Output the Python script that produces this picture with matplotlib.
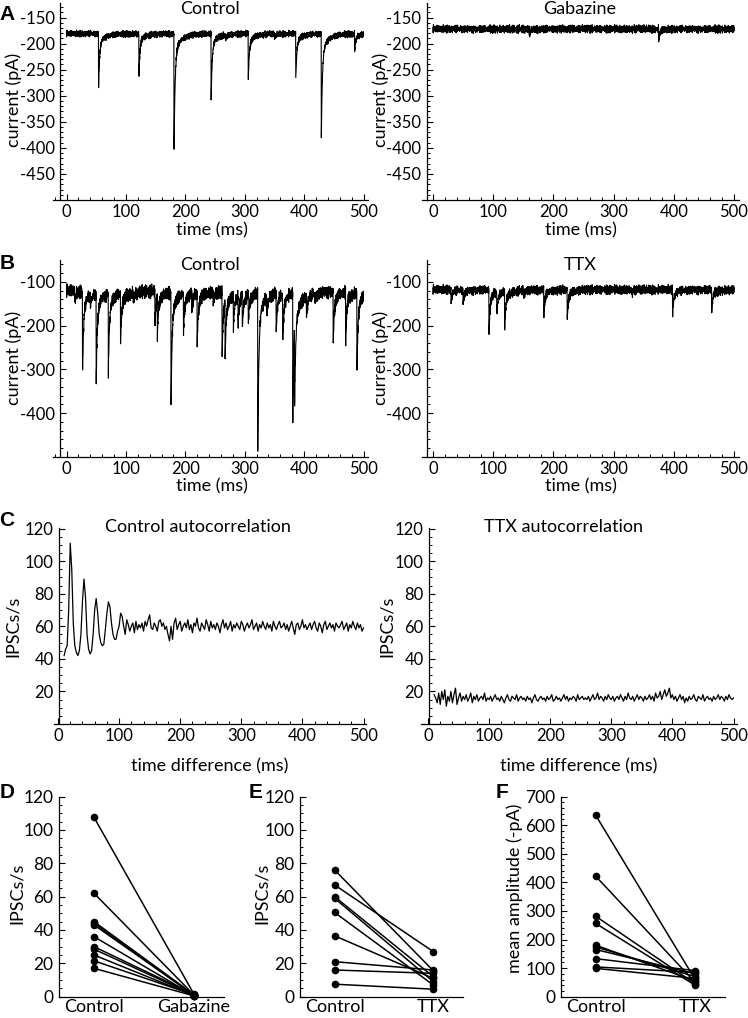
import numpy as np
import matplotlib
matplotlib.use("Agg")
from matplotlib import pyplot as plt
from matplotlib.ticker import MultipleLocator

plt.rcParams["font.family"] = ["Lato", "DejaVu Sans"]
plt.rcParams["axes.unicode_minus"] = False

W, H = 748, 1018

# ---- raw traces: event times (ms) and peak currents (pA)
DT = 0.25
A_CTRL_BASE = -181
A_CTRL_T = [54, 122, 181, 243.5, 306, 386, 429, 485, 268, 350]
A_CTRL_PK = [-286, -259, -408, -304, -273, -266, -381, -214, -190, -189]
A_GBZ_BASE = -172
A_GBZ_T = [160, 375]
A_GBZ_PK = [-182, -193]

B_CTRL_BASE = -121
B_CTRL_T = [14, 27, 40, 50, 70.5, 91, 112, 149, 153, 176, 197, 211, 220, 247, 262,
            267, 281, 289, 296, 306, 322, 337, 353, 364, 381, 384, 404, 418, 449,
            470, 489]
B_CTRL_PK = [-145, -313, -150, -324, -300, -239, -143, -194, -213, -382, -210, -160,
             -239, -150, -271, -254, -198, -179, -198, -184, -478, -162, -214, -233,
             -405, -306, -168, -145, -246, -232, -301]
B_TTX_BASE = -118
B_TTX_T = [30, 50, 93, 106, 119, 184, 223, 398, 463, 150, 330]
B_TTX_PK = [-148, -149, -219, -171, -208, -180, -187, -176, -168, -130, -128]

# hand-typed baseline jitter (fractions of the noise amplitude), two lists of
# different length so the sum does not repeat visibly
NOISE_1 = [0.3, -0.8, 0.5, 0.9, -0.2, -0.6, 0.7, -0.9, 0.1, 0.6, -0.4, -0.1, 0.8, -0.7,
           0.2, 0.4, -0.5, 0.9, -0.3, -0.8, 0.6, 0.0, -0.6, 0.5, 0.3, -0.9, 0.7, -0.2,
           0.4, -0.4, 0.8, -0.5, 0.1, -0.7, 0.6, 0.2, -0.3, 0.9, -0.8, 0.4, -0.1, 0.5,
           -0.6, 0.7, -0.4, 0.3, -0.9, 0.2, 0.8, -0.3, 0.0, -0.7, 0.6, -0.5, 0.9, -0.2,
           0.4, -0.8, 0.1, 0.7, -0.6, 0.3, -0.1, 0.5, -0.7]
NOISE_2 = [0.2, -0.4, 0.1, 0.5, -0.3, 0.0, -0.5, 0.4, -0.1, 0.3, -0.2, 0.5, -0.4,
           0.1, -0.5, 0.2, 0.4, -0.3, 0.0, -0.1, 0.3, -0.4, 0.5]

# ---- autocorrelation (IPSCs/s), 2.5 ms bins from 10 to 500 ms
LAG = np.arange(10, 500.01, 2.5)
AC_CTRL = [42, 46, 48, 70, 111, 95, 62, 48, 44, 42, 45, 55, 75, 89, 78, 55, 46, 43, 45, 55,
           70, 77, 68, 55, 50, 48, 49, 58, 68, 75, 72, 62, 55, 52, 52, 57, 60, 68, 66, 60,
           55, 64, 61, 57, 60, 62, 56, 63, 58, 61, 59, 62, 57, 63, 60, 64, 67, 59, 58, 62,
           60, 57, 63, 64, 60, 62, 58, 60, 55, 51, 60, 52, 62, 65, 58, 61, 63, 57, 60, 62,
           59, 64, 58, 61, 56, 62, 60, 65, 59, 57, 62, 60, 58, 64, 61, 57, 63, 59, 61, 58,
           62, 60, 56, 61, 64, 59, 62, 58, 60, 63, 57, 61, 59, 62, 60, 58, 63, 61, 57, 60,
           62, 59, 61, 64, 58, 60, 62, 57, 61, 59, 63, 60, 58, 62, 59, 61, 57, 63, 60, 58,
           61, 63, 59, 60, 62, 58, 61, 57, 60, 63, 59, 55, 61, 62, 58, 60, 64, 59, 61, 58,
           60, 62, 58, 61, 63, 59, 57, 62, 60, 56, 61, 63, 58, 60, 62, 59, 61, 57, 62, 60,
           59, 61, 63, 58, 60, 62, 57, 61, 59, 63, 60, 58, 62, 59, 61, 57, 59]
AC_TTX = [18, 16, 13, 19, 12, 20, 15, 21, 11, 17, 14, 20, 13, 18, 22, 12, 16, 19, 14, 17,
          15, 18, 14, 16, 19, 13, 17, 15, 18, 14, 16, 17, 15, 19, 14, 16, 15, 17, 14, 16,
          18, 15, 16, 14, 17, 15, 13, 16, 18, 15, 14, 17, 16, 15, 18, 14, 16, 17, 15, 16,
          14, 17, 15, 16, 13, 16, 18, 15, 14, 16, 17, 15, 16, 14, 17, 15, 16, 18, 14, 15,
          17, 15, 16, 14, 16, 18, 15, 17, 14, 16, 15, 17, 16, 14, 18, 15, 16, 17, 15, 16,
          15, 17, 14, 16, 18, 15, 16, 19, 15, 17, 16, 14, 17, 15, 18, 16, 15, 17, 14, 16,
          17, 15, 18, 16, 14, 17, 15, 19, 16, 15, 17, 14, 16, 18, 15, 17, 16, 14, 17, 15,
          16, 18, 15, 17, 14, 19, 16, 17, 20, 15, 18, 21, 17, 19, 22, 16, 18, 15, 17, 14,
          16, 18, 15, 17, 13, 16, 14, 17, 15, 16, 18, 15, 14, 17, 16, 15, 18, 14, 16, 17,
          15, 16, 14, 17, 15, 16, 18, 15, 17, 16, 14, 17, 15, 18, 16, 15, 16]

# ---- paired summary data
D_CTRL = [107.5, 62, 45, 44, 43, 36, 30, 28.5, 25, 21.5, 17]
D_GBZ = [1.5, 1.0, 1.2, 0.8, 1.0, 0.6, 1.3, 0.9, 0.7, 1.1, 0.5]
E_CTRL = [76, 67, 60, 59, 50.5, 36.5, 21, 16, 7.5]
E_TTX = [15.5, 27, 12, 9, 7, 11, 16, 14, 4.5]
F_CTRL = [634, 421, 281, 256, 180, 174, 165, 133, 104, 99]
F_TTX = [60, 50, 45, 40, 55, 70, 80, 91, 85, 64]

TICK_FS = 12
LABEL_FS = 13


def build_trace(base, amp, ev_t, ev_pk):
    t = np.arange(0, 500.01, DT)
    jitter = np.resize(NOISE_1, t.size) + np.resize(NOISE_2, t.size)
    y = base + amp * jitter
    for te, pk in zip(ev_t, ev_pk):
        s = np.clip(t - te, 0, None)
        k = np.where(t >= te, 0.85 * np.exp(-s / 1.8) + 0.15 * np.exp(-s / 12.0), 0.0)
        y = y + (pk - base) * k
    return t, y


fig = plt.figure(figsize=(W / 100, H / 100), dpi=100)


def add_ax(x0, x1, ytop, ybot):
    return fig.add_axes([x0 / W, 1 - ybot / H, (x1 - x0) / W, (ybot - ytop) / H])


def style(ax, size=TICK_FS):
    for s in ("top", "right"):
        ax.spines[s].set_visible(False)
    for s in ("left", "bottom"):
        ax.spines[s].set_linewidth(0.9)
    ax.tick_params(direction="in", length=4, width=0.8, labelsize=size)
    ax.tick_params(which="minor", direction="in", length=2, width=0.7)
    ax.tick_params(axis="y", pad=4)
    ax.tick_params(axis="x", pad=3)


def ftext(x, y, s, **kw):
    kw.setdefault("ha", "center")
    kw.setdefault("va", "center")
    kw.setdefault("fontsize", LABEL_FS)
    fig.text(x / W, 1 - y / H, s, **kw)


def trace_panel(x0, x1, ytop, ybot, zero_px, scale, ylim, ymaj, ymin, t, y):
    ax = add_ax(x0, x1, ytop, ybot)
    style(ax)
    ax.plot(t, y, color="black", lw=0.8)
    ax.set_xlim((x0 - zero_px) / scale, (x1 - zero_px) / scale)
    ax.set_ylim(*ylim)
    ax.spines["left"].set_position(("data", -10.5))
    ax.set_xticks(range(0, 501, 100))
    ax.xaxis.set_minor_locator(MultipleLocator(20))
    ax.set_yticks([v for v in np.arange(ylim[0], ylim[1] + 1, ymaj) if v > ylim[0]])
    ax.yaxis.set_minor_locator(MultipleLocator(ymin))
    return ax


# ---- A
t, y = build_trace(A_CTRL_BASE, 5, A_CTRL_T, A_CTRL_PK)
trace_panel(53, 368, 3, 200, 66.5, 0.594, (-500, -122), 50, 10, t, y)
t, y = build_trace(A_GBZ_BASE, 6, A_GBZ_T, A_GBZ_PK)
trace_panel(422, 739, 3, 200, 433, 0.602, (-500, -122), 50, 10, t, y)

# ---- B
t, y = build_trace(B_CTRL_BASE, 12, B_CTRL_T, B_CTRL_PK)
trace_panel(53, 368, 260, 457, 66.5, 0.594, (-500, -50), 100, 20, t, y)
t, y = build_trace(B_TTX_BASE, 8.5, B_TTX_T, B_TTX_PK)
trace_panel(422, 739, 260, 457, 433, 0.602, (-500, -50), 100, 20, t, y)

# ---- C
for (x0, x1, zero_px), vals in zip([(54, 366, 58), (421, 737, 428)], [AC_CTRL, AC_TTX]):
    ax = add_ax(x0, x1, 527.7, 724)
    style(ax)
    ax.plot(LAG, vals, color="black", lw=0.9)
    ax.set_xlim((x0 - zero_px) / 0.611, (x1 - zero_px) / 0.611)
    ax.set_ylim(0, 120.5)
    ax.spines["left"].set_position(("data", 2))
    ax.set_xticks(range(0, 501, 100))
    ax.xaxis.set_minor_locator(MultipleLocator(20))
    ax.set_yticks(range(20, 121, 20))
    ax.yaxis.set_minor_locator(MultipleLocator(5))

# ---- D, E, F
summary = [
    (59, 224, D_CTRL, D_GBZ, "Gabazine", 120, 20, 5),
    (300, 463, E_CTRL, E_TTX, "TTX", 120, 20, 5),
    (561, 725, F_CTRL, F_TTX, "TTX", 700, 100, 20),
]
for x0, x1, c, d, lab, top, maj, mnr in summary:
    ax = add_ax(x0, x1, 796.5, 996.7)
    style(ax, 12.5)
    for a, b in zip(c, d):
        ax.plot([0, 1], [a, b], "-o", color="black", lw=1.1, ms=4.5, clip_on=False)
    ax.set_xlim(-0.35, 1.3)
    ax.set_ylim(0, top)
    ax.set_xticks([0, 1], ["Control", lab], fontsize=LABEL_FS)
    ax.tick_params(axis="x", length=0, pad=2)
    ax.set_yticks(range(0, top + 1, maj))
    ax.yaxis.set_minor_locator(MultipleLocator(mnr))

# ---- titles
ftext(210, 9, "Control")
ftext(580, 9, "Gabazine")
ftext(210, 265, "Control")
ftext(580, 265, "TTX")
ftext(198, 527, "Control autocorrelation")
ftext(563, 527, "TTX autocorrelation")

# ---- axis labels
for x in (14, 381):
    ftext(x, 100, "current (pA)", rotation=90)
    ftext(x, 358, "current (pA)", rotation=90)
for x in (212, 581):
    ftext(x, 230, "time (ms)")
    ftext(x, 486, "time (ms)")
ftext(12.5, 626, "IPSCs/s", rotation=90)
ftext(387, 626, "IPSCs/s", rotation=90)
ftext(210, 766, "time difference (ms)")
ftext(579, 766, "time difference (ms)")
ftext(17, 893, "IPSCs/s", rotation=90)
ftext(262, 893, "IPSCs/s", rotation=90)
ftext(515, 888, "mean amplitude (-pA)", rotation=90)

# ---- panel letters
for x, y, s in [(7, 14, "A"), (7, 264, "B"), (7, 521, "C"), (7, 792, "D"),
                (256, 792, "E"), (502, 792, "F")]:
    ftext(x, y, s, family=["Liberation Sans", "DejaVu Sans"], weight="bold", fontsize=15)

fig.savefig("out.png", dpi=100)
